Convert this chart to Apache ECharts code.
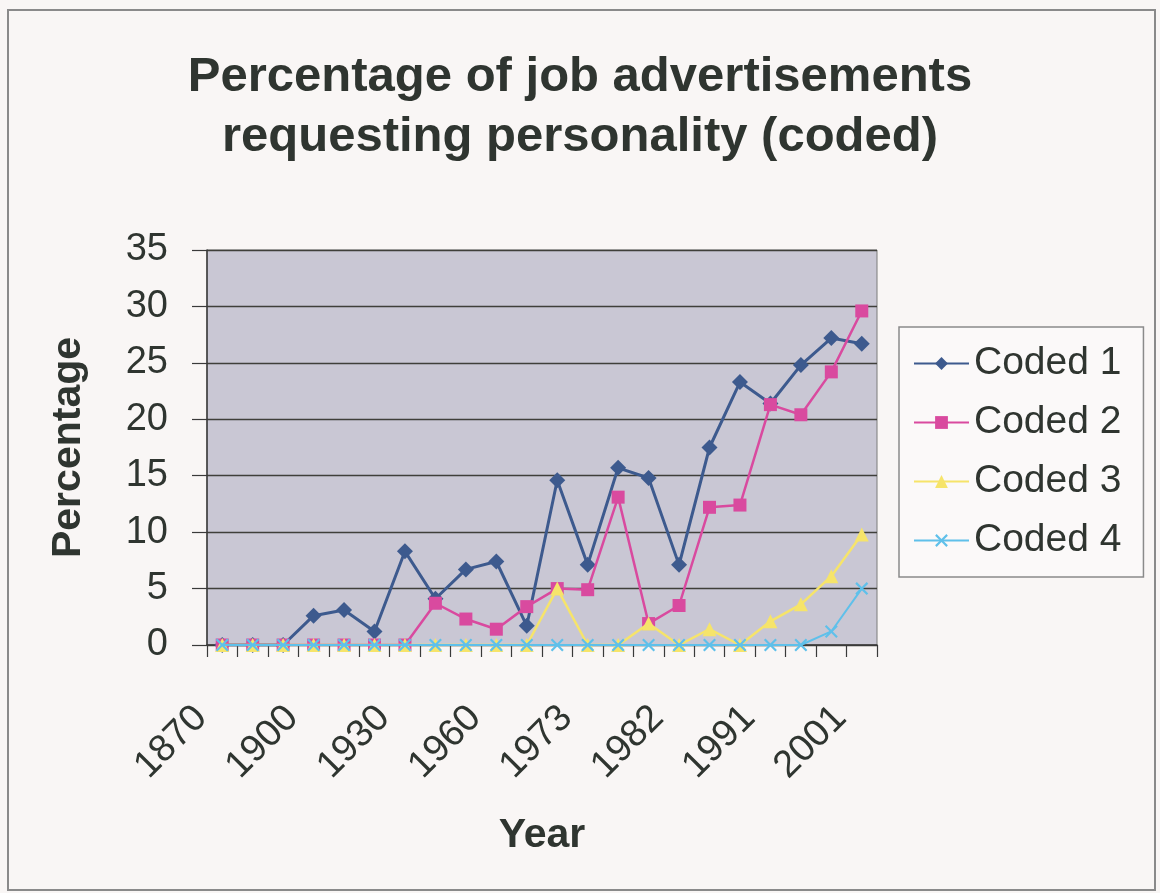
<!DOCTYPE html>
<html>
<head>
<meta charset="utf-8">
<title>Percentage of job advertisements requesting personality (coded)</title>
<script src="https://cdn.jsdelivr.net/npm/echarts@6/dist/echarts.min.js"></script>
<style>
  html, body { margin: 0; padding: 0; background: #f9f6f5; }
  #chart { width: 1160px; height: 893px; }
</style>
</head>
<body>
<div id="chart"></div>
<script>
// Survey years (category axis)
const years = ['1870', '1880', '1890', '1900', '1910', '1920', '1930', '1940', '1950', '1960', '1965',
               '1970', '1973', '1976', '1979', '1982', '1985', '1988', '1991', '1994', '1997', '2001'];

// Percentage of adverts per coding level
const coded1 = [0, 0, 0, 2.6, 3.1, 1.2, 8.3, 4.1, 6.7, 7.4, 1.7, 14.6, 7.1, 15.7, 14.8, 7.1, 17.5, 23.3, 21.4, 24.8, 27.2, 26.7];
const coded2 = [0, 0, 0, 0, 0, 0, 0, 3.7, 2.3, 1.4, 3.4, 5.0, 4.9, 13.1, 1.9, 3.5, 12.2, 12.4, 21.3, 20.4, 24.2, 29.6];
const coded3 = [0, 0, 0, 0, 0, 0, 0, 0, 0, 0, 0, 5.0, 0, 0, 1.9, 0, 1.4, 0, 2.1, 3.6, 6.1, 9.8];
const coded4 = [0, 0, 0, 0, 0, 0, 0, 0, 0, 0, 0, 0, 0, 0, 0, 0, 0, 0, 0, 0, 1.2, 5.0];

const seriesNames = ['Coded 1', 'Coded 2', 'Coded 3', 'Coded 4'];
const yTicks = { min: 0, max: 35, interval: 5 };

const FONT = "'Liberation Sans', Arial, sans-serif";
const INK = '#2f3530';
const CROSS = 'path://M0,1.2 L1.2,0 L5,3.8 L8.8,0 L10,1.2 L6.2,5 L10,8.8 L8.8,10 L5,6.2 L1.2,10 L0,8.8 L3.8,5 Z';

const styles = [
  { color: '#3d5a8e', symbol: 'diamond', size: 16, width: 3 },
  { color: '#d94a9f', symbol: 'rect', size: 13, width: 2.5 },
  { color: '#f6e46a', symbol: 'triangle', size: 14, width: 2.5 },
  { color: '#5fc0ea', symbol: CROSS, size: 13, width: 2 }
];
const dataSets = [coded1, coded2, coded3, coded4];

const chart = echarts.init(document.getElementById('chart'), null, { renderer: 'canvas' });

chart.setOption({
  backgroundColor: '#f9f6f5',
  animation: false,
  textStyle: { fontFamily: FONT },
  graphic: [{
    type: 'rect',
    shape: { x: 8, y: 10, width: 1147, height: 880 },
    style: { fill: 'none', stroke: '#8a8a8a', lineWidth: 2 },
    silent: true,
    z: -10
  }],
  title: {
    text: 'Percentage of job advertisements\nrequesting personality (coded)',
    left: 'center',
    top: 42,
    textStyle: {
      fontFamily: FONT,
      fontWeight: 'bold',
      fontSize: 49,
      lineHeight: 60,
      color: INK
    }
  },
  legend: {
    orient: 'vertical',
    left: 899,
    top: 327,
    padding: [16, 22, 16, 14],
    itemWidth: 55,
    itemHeight: 16,
    itemGap: 18,
    backgroundColor: '#fbf9f9',
    borderColor: '#8a8a8a',
    borderWidth: 1.5,
    borderRadius: 0,
    data: seriesNames,
    textStyle: { fontFamily: FONT, fontSize: 39, color: INK, lineHeight: 41, padding: [0, 0, 0, 0] }
  },
  grid: {
    left: 207,
    right: 283,
    top: 250,
    bottom: 248,
    show: true,
    backgroundColor: '#c9c7d4',
    borderColor: '#7a7a7a',
    borderWidth: 1
  },
  xAxis: {
    type: 'category',
    data: years,
    boundaryGap: true,
    name: 'Year',
    nameLocation: 'middle',
    nameGap: 170,
    nameTextStyle: { fontFamily: FONT, fontWeight: 'bold', fontSize: 41, color: INK },
    axisLine: { show: true, lineStyle: { color: '#3a3a3a', width: 1.5 } },
    axisTick: { show: true, interval: 0, length: 12, lineStyle: { color: '#3a3a3a', width: 1.2 } },
    axisLabel: {
      interval: 2,
      rotate: 45,
      margin: 46,
      padding: [0, 30, 0, 0],
      fontFamily: FONT,
      fontSize: 38,
      color: INK
    },
    splitLine: { show: false }
  },
  yAxis: {
    type: 'value',
    min: yTicks.min,
    max: yTicks.max,
    interval: yTicks.interval,
    name: 'Percentage',
    nameLocation: 'middle',
    nameGap: 118,
    nameTextStyle: { fontFamily: FONT, fontWeight: 'bold', fontSize: 41, color: INK },
    axisLine: { show: true, lineStyle: { color: '#3a3a3a', width: 1.5 } },
    axisTick: { show: true, length: 15, lineStyle: { color: '#3a3a3a', width: 1.2 } },
    axisLabel: { margin: 39, fontFamily: FONT, fontSize: 38, color: INK },
    splitLine: { show: true, lineStyle: { color: '#3f3f3a', width: 1.4 } }
  },
  series: dataSets.map((d, i) => ({
    name: seriesNames[i],
    type: 'line',
    data: d,
    symbol: styles[i].symbol,
    symbolSize: styles[i].size,
    showAllSymbol: true,
    lineStyle: { color: styles[i].color, width: styles[i].width },
    itemStyle: { color: styles[i].color, opacity: 1 },
    emphasis: { disabled: true },
    z: 2 + i
  }))
});
</script>
</body>
</html>
